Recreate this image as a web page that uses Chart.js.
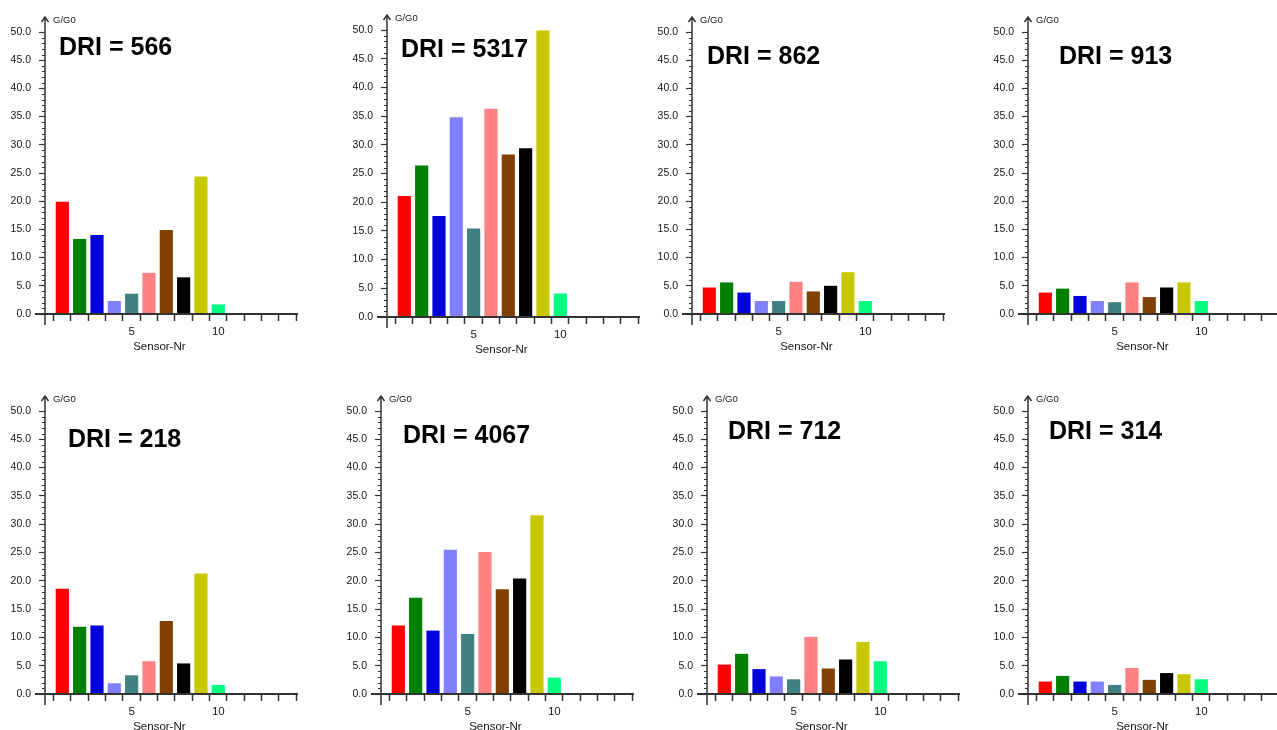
<!DOCTYPE html>
<html>
<head>
<meta charset="utf-8">
<title>DRI sensor panels</title>
<script src="https://cdn.jsdelivr.net/npm/chart.js@4.4.1/dist/chart.umd.min.js"></script>
<style>
    html, body { margin: 0; padding: 0; background: #fff; }
    body { width: 1277px; height: 730px; overflow: hidden; position: relative; }
    canvas { position: absolute; }
</style>
</head>
<body>
<script>
"use strict";

// Sensor numbers (x positions) and the colour of each sensor bar:
var sensors = [1, 2, 3, 4, 5, 6, 7, 8, 9, 10];
var sensorColors = ['#ff0000', '#007f00', '#0000dd', '#8080ff', '#408080',
                    '#ff8080', '#804000', '#000000', '#c8c800', '#00ff80'];

// Tick labels:
var xTickLabels = [5, 10];
var yMax = 50;
var yStep = 5;
var xMax = 14.6;

// DRI value printed in each panel (reading order):
var driValues = [566, 5317, 862, 913, 218, 4067, 712, 314];

// G/G0 for sensors 1..10 in each panel:
var dri566  = [19.9, 13.3, 14.0, 2.3, 3.6, 7.3, 14.9, 6.5, 24.4, 1.7];
var dri5317 = [21.1, 26.4, 17.6, 34.8, 15.4, 36.3, 28.3, 29.4, 49.9, 4.1];
var dri862  = [4.7, 5.6, 3.8, 2.3, 2.3, 5.7, 4.0, 5.0, 7.4, 2.3];
var dri913  = [3.8, 4.5, 3.2, 2.3, 2.1, 5.6, 3.0, 4.7, 5.6, 2.3];
var dri218  = [18.6, 11.9, 12.1, 1.9, 3.3, 5.8, 12.9, 5.4, 21.3, 1.6];
var dri4067 = [12.1, 17.0, 11.2, 25.5, 10.6, 25.1, 18.5, 20.4, 31.6, 2.9];
var dri712  = [5.2, 7.1, 4.4, 3.1, 2.6, 10.1, 4.5, 6.1, 9.2, 5.8];
var dri314  = [2.2, 3.2, 2.2, 2.2, 1.6, 4.6, 2.5, 3.7, 3.5, 2.6];
var panelValues = [dri566, dri5317, dri862, dri913, dri218, dri4067, dri712, dri314];

// Where each panel sits on the page (axis origin x, y of 50.0, y of 0.0)
// and where its DRI caption goes relative to the axis top:
var panelLayout = [
    { axisX: 45,  topY: 32,  zeroY: 314, titleDx: 14, titleDy: 16 },
    { axisX: 387, topY: 30,  zeroY: 317, titleDx: 14, titleDy: 20 },
    { axisX: 692, topY: 32,  zeroY: 314, titleDx: 15, titleDy: 25 },
    { axisX: 1028, topY: 32, zeroY: 314, titleDx: 31, titleDy: 25 },
    { axisX: 45,  topY: 411, zeroY: 694, titleDx: 23, titleDy: 29 },
    { axisX: 381, topY: 411, zeroY: 694, titleDx: 22, titleDy: 25 },
    { axisX: 707, topY: 411, zeroY: 694, titleDx: 21, titleDy: 21 },
    { axisX: 1028, topY: 411, zeroY: 694, titleDx: 21, titleDy: 21 }
];

var FONT = '"Liberation Sans", Arial, sans-serif';
var AXIS_COLOR = '#333';
var TEXT_COLOR = '#151515';
var Y_AXIS_W = 45, PAD_TOP = 32, X_AXIS_H = 30, PAD_BOTTOM = 16, PAD_RIGHT = 20;

// Axis lines with arrow, minor ticks, and the texts that sit inside the plot:
var sensorAxes = {
    id: 'sensorAxes',
    afterDraw: function (chart, args, opts) {
        var ctx = chart.ctx;
        var xs = chart.scales.x;
        var ys = chart.scales.y;
        var ox = xs.getPixelForValue(0);
        var oy = ys.getPixelForValue(0);
        var top = ys.getPixelForValue(yMax);

        ctx.save();
        ctx.strokeStyle = AXIS_COLOR;

        // minor ticks every 1.0
        ctx.lineWidth = 1;
        ctx.beginPath();
        for (var v = 1; v < yMax; v++) {
            if (v % yStep === 0) continue;
            var py = Math.round(ys.getPixelForValue(v)) + 0.5;
            ctx.moveTo(ox - 3, py);
            ctx.lineTo(ox, py);
        }
        ctx.stroke();

        // y axis with its arrow
        ctx.lineWidth = 1.5;
        ctx.beginPath();
        ctx.moveTo(ox, oy + 11);
        ctx.lineTo(ox, top - 15);
        ctx.moveTo(ox - 3.5, top - 10);
        ctx.lineTo(ox, top - 15);
        ctx.lineTo(ox + 3.5, top - 10);
        ctx.stroke();

        // x axis
        ctx.lineWidth = 2;
        ctx.beginPath();
        ctx.moveTo(ox - 10, oy);
        ctx.lineTo(chart.chartArea.right, oy);
        ctx.stroke();

        ctx.fillStyle = TEXT_COLOR;
        ctx.textBaseline = 'middle';
        ctx.textAlign = 'left';
        ctx.font = '9.5px ' + FONT;
        ctx.fillText('G/G0', ox + 8, top - 12);

        ctx.textAlign = 'center';
        ctx.font = '11.5px ' + FONT;
        ctx.fillText('Sensor-Nr', xs.getPixelForValue(6.6), oy + 33);

        ctx.fillStyle = '#000';
        ctx.textAlign = 'left';
        ctx.font = 'bold 25px ' + FONT;
        ctx.fillText(opts.title, ox + opts.titleDx, top + opts.titleDy);
        ctx.restore();
    }
};

panelLayout.forEach(function (p, i) {
    var plotH = p.zeroY - p.topY;
    var plotW = xMax * 17.3;
    var canvas = document.createElement('canvas');
    canvas.width = Math.round(Y_AXIS_W + plotW + PAD_RIGHT);
    canvas.height = Math.round(PAD_TOP + plotH + X_AXIS_H + PAD_BOTTOM);
    canvas.style.left = (p.axisX - Y_AXIS_W) + 'px';
    canvas.style.top = (p.topY - PAD_TOP) + 'px';
    document.body.appendChild(canvas);

    var values = panelValues[i];

    new Chart(canvas.getContext('2d'), {
        type: 'bar',
        data: {
            datasets: [{
                data: values.map(function (v, k) { return { x: sensors[k], y: v }; }),
                backgroundColor: sensorColors,
                borderWidth: 0,
                barPercentage: 0.76,
                categoryPercentage: 1
            }]
        },
        options: {
            responsive: false,
            animation: false,
            events: [],
            layout: { padding: { top: PAD_TOP, left: 0, right: PAD_RIGHT, bottom: PAD_BOTTOM } },
            plugins: {
                legend: { display: false },
                tooltip: { enabled: false },
                sensorAxes: { title: 'DRI = ' + driValues[i], titleDx: p.titleDx, titleDy: p.titleDy }
            },
            scales: {
                x: {
                    type: 'linear',
                    min: 0,
                    max: xMax,
                    offset: false,
                    border: { display: false },
                    grid: {
                        drawOnChartArea: false,
                        drawTicks: true,
                        tickLength: 7,
                        tickWidth: 1.5,
                        tickColor: function (c) {
                            return c.tick && c.tick.value === 0 ? 'rgba(0,0,0,0)' : AXIS_COLOR;
                        }
                    },
                    ticks: {
                        stepSize: 1,
                        includeBounds: false,
                        autoSkip: false,
                        maxRotation: 0,
                        padding: 4,
                        color: TEXT_COLOR,
                        font: { family: FONT, size: 11.5 },
                        callback: function (v) {
                            return xTickLabels.indexOf(v) >= 0 ? String(v) : '';
                        }
                    },
                    afterFit: function (scale) { scale.height = X_AXIS_H; }
                },
                y: {
                    min: 0,
                    max: yMax,
                    border: { display: false },
                    grid: {
                        drawOnChartArea: false,
                        drawTicks: true,
                        tickLength: 6,
                        tickWidth: 1.2,
                        tickColor: AXIS_COLOR
                    },
                    ticks: {
                        stepSize: yStep,
                        padding: 8,
                        color: TEXT_COLOR,
                        font: { family: FONT, size: 10.5 },
                        callback: function (v) { return v.toFixed(1); }
                    },
                    afterFit: function (scale) { scale.width = Y_AXIS_W; }
                }
            }
        },
        plugins: [sensorAxes]
    });
});
</script>
</body>
</html>
